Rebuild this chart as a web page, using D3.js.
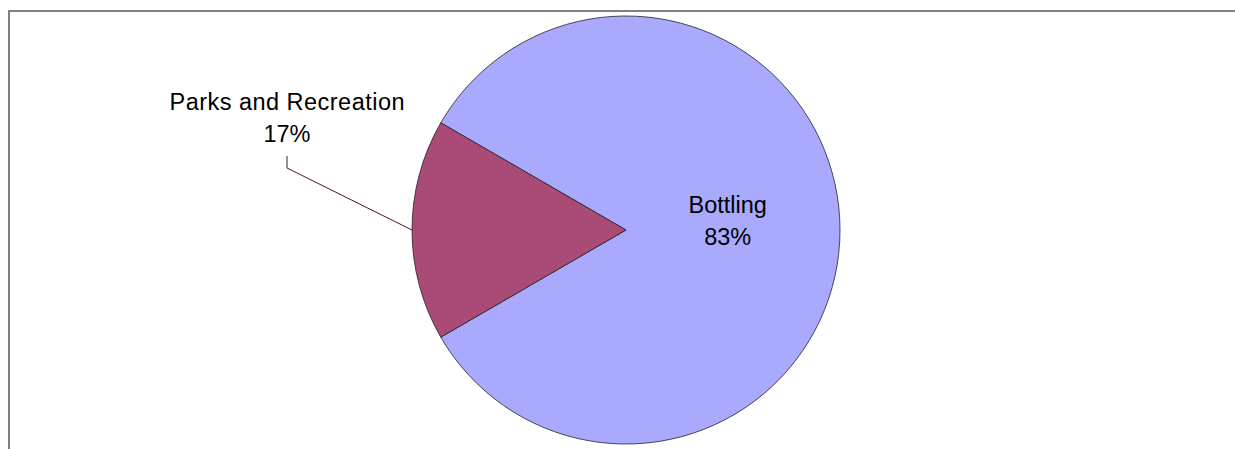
<!DOCTYPE html>
<html>
<head>
<meta charset="utf-8">
<script src="https://cdn.jsdelivr.net/npm/d3@7"></script>
<style>
  body { margin: 0; background: #fff; }
  svg { display: block; }
</style>
</head>
<body>
<svg id="chart" width="1235" height="449"></svg>
<script>
// slice data
const categories = ["Bottling", "Parks and Recreation"];
const values = [83.3, 16.7];
const pctLabels = ["83%", "17%"];
const colors = ["#A9AAFE", "#A94A77"];

const width = 1235, height = 449;
const cx = 626, cy = 230, radius = 214;

const svg = d3.select("#chart");

// chart area border (runs off the right/bottom edges)
svg.append("path")
  .attr("d", `M9,${height + 5} L9,11 L${width + 5},11`)
  .attr("fill", "none")
  .attr("stroke", "#808080")
  .attr("stroke-width", 2);

// parks slice centered on the left horizontal
const parksShare = values[1] / d3.sum(values);
const startAngle = -Math.PI / 2 - parksShare * Math.PI;

const pie = d3.pie()
  .sort(null)
  .value(d => d)
  .startAngle(startAngle + 2 * Math.PI * parksShare)
  .endAngle(startAngle + 2 * Math.PI * parksShare + 2 * Math.PI);

const arcs = pie(values);
const arc = d3.arc().innerRadius(0).outerRadius(radius);

const g = svg.append("g").attr("transform", `translate(${cx},${cy})`);

g.selectAll("path.slice")
  .data(arcs)
  .enter()
  .append("path")
  .attr("class", "slice")
  .attr("d", arc)
  .attr("fill", (d, i) => colors[i])
  .attr("stroke", "#222")
  .attr("stroke-width", 0.8);

const font = "Arial, 'Liberation Sans', sans-serif";

// Bottling label inside the slice
const bMid = (arcs[0].startAngle + arcs[0].endAngle) / 2;
const bx = cx + Math.sin(bMid) * radius * 0.475;

function twoLineLabel(x, y, line1, line2, len1) {
  const t = svg.append("text")
    .attr("x", x)
    .attr("y", y)
    .attr("text-anchor", "middle")
    .style("font-family", font)
    .style("font-size", "23.5px")
    .style("fill", "#000");
  const s1 = t.append("tspan").attr("x", x).text(line1);
  if (len1) s1.attr("textLength", len1).attr("lengthAdjust", "spacing");
  t.append("tspan").attr("x", x).attr("dy", 32).text(line2);
}

twoLineLabel(bx, 213, categories[0], pctLabels[0]);

// Parks label outside with leader line
const pMid = (arcs[1].startAngle + arcs[1].endAngle) / 2;
const px = cx + Math.sin(pMid) * radius;
const py = cy - Math.cos(pMid) * radius;
const elbowX = 287, elbowY = 168, topY = 156;

svg.append("path")
  .attr("d", `M${px},${py} L${elbowX},${elbowY} L${elbowX},${topY}`)
  .attr("fill", "none")
  .attr("stroke", "#4a1530")
  .attr("stroke-width", 1);

twoLineLabel(elbowX, 110, categories[1], pctLabels[1], 235);
</script>
</body>
</html>
